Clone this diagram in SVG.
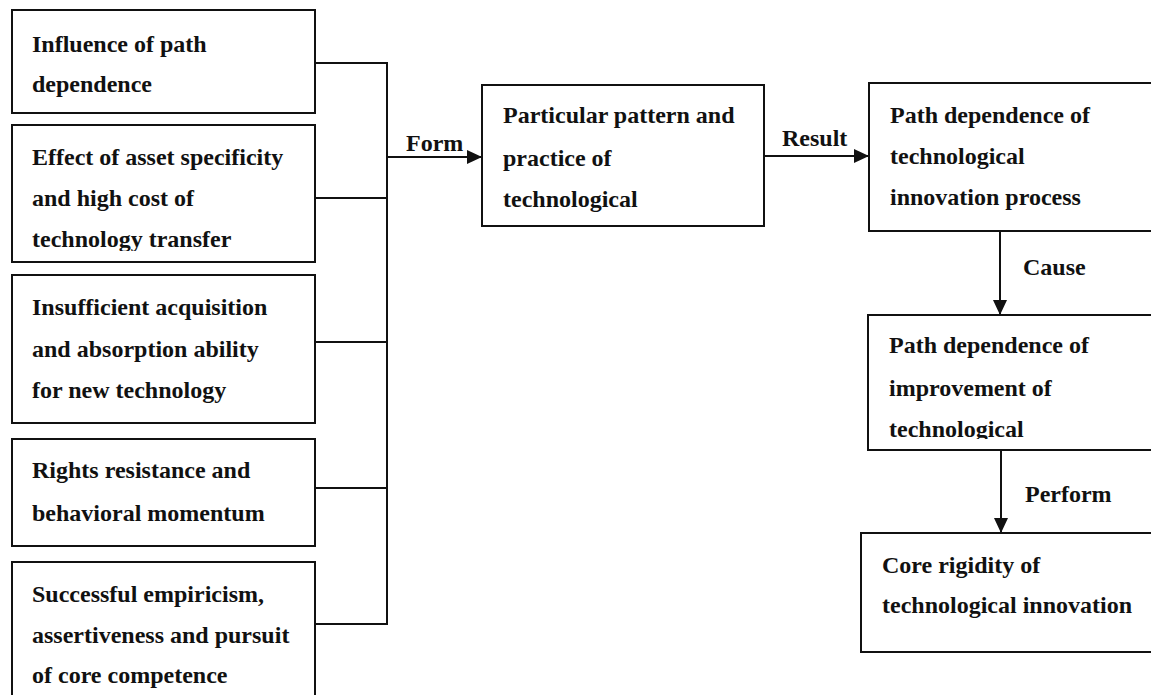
<svg xmlns="http://www.w3.org/2000/svg" width="1151" height="695" viewBox="0 0 1151 695">
<style>
.box{fill:#fff;stroke:#111;stroke-width:2}
.t{font-family:"Liberation Serif","Times New Roman",serif;font-weight:bold;font-size:24px;fill:#111}
.ln{fill:none;stroke:#111;stroke-width:2}
</style>
<defs>
<marker id="ah" markerWidth="16" markerHeight="14" refX="15" refY="7" orient="auto" markerUnits="userSpaceOnUse">
<path d="M0,0 L15,7 L0,14 Z" fill="#111"/>
</marker>
<clipPath id="c2"><rect x="12" y="125" width="303" height="126"/></clipPath>
<clipPath id="c7"><rect x="868" y="315" width="300" height="124"/></clipPath>
</defs>
<rect width="1151" height="695" fill="#fff"/>
<g id="connectors">
<polyline class="ln" points="315,63 387,63 387,624 315,624"/>
<line class="ln" x1="315" y1="198" x2="387" y2="198"/>
<line class="ln" x1="315" y1="342" x2="387" y2="342"/>
<line class="ln" x1="315" y1="488" x2="387" y2="488"/>
<line class="ln" x1="387" y1="157" x2="482" y2="157" marker-end="url(#ah)"/>
<line class="ln" x1="764" y1="156" x2="869" y2="156" marker-end="url(#ah)"/>
<line class="ln" x1="1000" y1="231" x2="1000" y2="315" marker-end="url(#ah)"/>
<line class="ln" x1="1001" y1="450" x2="1001" y2="533" marker-end="url(#ah)"/>
<text class="t" x="406" y="151">Form</text>
<text class="t" x="782" y="146">Result</text>
<text class="t" x="1023" y="275">Cause</text>
<text class="t" x="1025" y="502">Perform</text>
</g>
<g id="n1">
<rect class="box" x="12" y="10" width="303" height="103"/>
<text class="t" x="32" y="52">Influence of path</text>
<text class="t" x="32" y="92">dependence</text>
</g>
<g id="n2">
<rect class="box" x="12" y="125" width="303" height="137"/>
<g clip-path="url(#c2)">
<text class="t" x="32" y="165">Effect of asset specificity</text>
<text class="t" x="32" y="206">and high cost of</text>
<text class="t" x="32" y="247">technology transfer</text>
</g>
</g>
<g id="n3">
<rect class="box" x="12" y="275" width="303" height="148"/>
<text class="t" x="32" y="315">Insufficient acquisition</text>
<text class="t" x="32" y="357">and absorption ability</text>
<text class="t" x="32" y="398">for new technology</text>
</g>
<g id="n4">
<rect class="box" x="12" y="439" width="303" height="107"/>
<text class="t" x="32" y="478">Rights resistance and</text>
<text class="t" x="32" y="521">behavioral momentum</text>
</g>
<g id="n5">
<rect class="box" x="12" y="562" width="303" height="150"/>
<text class="t" x="32" y="602">Successful empiricism,</text>
<text class="t" x="32" y="643">assertiveness and pursuit</text>
<text class="t" x="32" y="683">of core competence</text>
</g>
<g id="n6">
<rect class="box" x="482" y="85" width="282" height="141"/>
<text class="t" x="503" y="123">Particular pattern and</text>
<text class="t" x="503" y="166">practice of</text>
<text class="t" x="503" y="207">technological</text>
</g>
<g id="n7">
<rect class="box" x="869" y="83" width="300" height="148"/>
<text class="t" x="890" y="123">Path dependence of</text>
<text class="t" x="890" y="164">technological</text>
<text class="t" x="890" y="205">innovation process</text>
</g>
<g id="n8">
<rect class="box" x="868" y="315" width="300" height="135"/>
<g clip-path="url(#c7)">
<text class="t" x="889" y="353">Path dependence of</text>
<text class="t" x="889" y="396">improvement of</text>
<text class="t" x="889" y="437">technological</text>
</g>
</g>
<g id="n9">
<rect class="box" x="861" y="533" width="300" height="119"/>
<text class="t" x="882" y="573">Core rigidity of</text>
<text class="t" x="882" y="613">technological innovation</text>
</g>
</svg>
